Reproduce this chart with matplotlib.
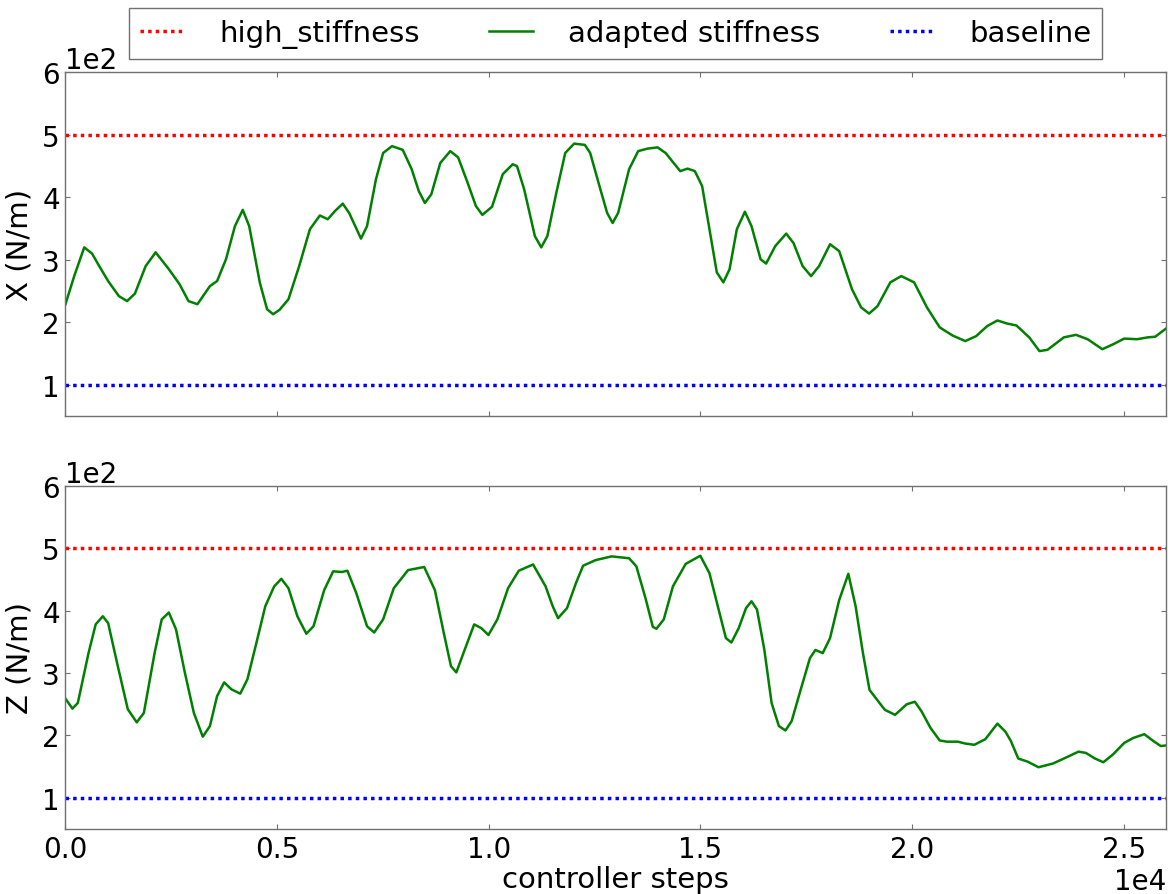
"""Stiffness adaptation over controller steps, X and Z axes."""

import matplotlib
matplotlib.use("Agg")
import matplotlib.pyplot as plt

plt.rcParams.update(
    {
        "font.family": "DejaVu Sans",
        "font.size": 21,
        "axes.formatter.use_mathtext": False,
    }
)

HIGH_STIFFNESS = 500.0
BASELINE = 100.0
X_MAX = 26000

# adapted stiffness along X (N/m)
steps_x = [
    0, 207, 444, 629, 798, 1009, 1262, 1456, 1641, 1895, 2131, 2443, 2696,
    2907, 3118, 3413, 3582, 3793, 4004, 4189, 4341, 4594, 4763, 4906, 5058,
    5269, 5522, 5775, 6011, 6197, 6366, 6551, 6703, 6982, 7125, 7336, 7505,
    7716, 7969, 8180, 8348, 8492, 8644, 8855, 9091, 9277, 9487, 9698, 9850,
    10078, 10331, 10567, 10668, 10837, 11090, 11241, 11385, 11596, 11807,
    12018, 12271, 12397, 12608, 12798, 12927, 13057, 13316, 13531, 13747,
    13989, 14179, 14524, 14697, 14870, 15042, 15215, 15388, 15543, 15690,
    15862, 16052, 16208, 16423, 16553, 16769, 17028, 17200, 17416, 17615,
    17805, 18064, 18280, 18582, 18797, 18987, 19186, 19488, 19747, 20050,
    20352, 20654, 20956, 21258, 21517, 21776, 22018, 22251, 22467, 22769,
    23011, 23201, 23589, 23874, 24150, 24496, 24755, 25013, 25316, 25575,
    25747, 26000,
]
stiff_x = [
    229, 274, 320, 310, 290, 266, 242, 234, 246, 290, 312, 285, 261,
    234, 229, 258, 266, 301, 354, 380, 354, 263, 221, 213, 220,
    237, 290, 349, 371, 365, 378, 390, 375, 334, 354, 429, 471,
    482, 476, 445, 410, 391, 405, 455, 474, 464, 426, 386, 372,
    385, 437, 453, 450, 413, 338, 320, 338, 407, 471,
    486, 484, 471, 420, 375, 359, 375, 445, 474, 478,
    480, 471, 442, 446, 442, 418, 349, 280, 264, 285,
    349, 377, 354, 301, 294, 322, 342, 327, 290, 274,
    290, 325, 314, 253, 224, 214, 226, 264, 274, 264,
    224, 192, 179, 170, 178, 194, 203, 198, 195, 176,
    154, 156, 176, 180, 173, 157, 165, 174, 173, 176,
    177, 190,
]

# adapted stiffness along Z (N/m)
steps_z = [
    0, 165, 292, 545, 714, 882, 1009, 1220, 1473, 1684, 1852, 2106, 2274,
    2443, 2612, 2823, 3034, 3244, 3413, 3582, 3750, 3919, 4130, 4299, 4510,
    4721, 4932, 5100, 5269, 5480, 5691, 5860, 6113, 6324, 6535, 6661, 6872,
    7125, 7294, 7505, 7757, 8095, 8475, 8728, 8939, 9108, 9234, 9403, 9656,
    9824, 9993, 10204, 10457, 10710, 11048, 11343, 11512, 11638, 11849,
    12060, 12229, 12524, 12904, 13316, 13488, 13704, 13877, 13963, 14136,
    14352, 14654, 14999, 15215, 15431, 15603, 15733, 15906, 16078, 16208,
    16337, 16510, 16683, 16855, 17011, 17157, 17373, 17589, 17718, 17891,
    18064, 18280, 18496, 18668, 18841, 18996, 19143, 19359, 19600, 19877,
    20067, 20222, 20438, 20654, 20826, 21085, 21258, 21474, 21733, 22018,
    22207, 22337, 22510, 22731, 22990, 23330, 23589, 23934, 24107, 24323,
    24521, 24755, 25013, 25229, 25488, 25704, 25877, 26000,
]
stiff_z = [
    259, 243, 252, 332, 378, 391, 380, 316, 242, 221, 236, 332, 386,
    397, 370, 300, 236, 198, 215, 263, 285, 274, 267, 290, 348,
    407, 439, 451, 436, 391, 363, 375, 433, 463, 462, 464, 428,
    375, 365, 386, 436, 465, 470, 433, 364, 311, 301, 332, 378,
    372, 361, 386, 436, 464, 474, 439, 407, 388, 404,
    444, 472, 481, 487, 484, 471, 420, 374, 371, 386,
    439, 475, 488, 460, 402, 356, 349, 372, 404, 415,
    402, 338, 252, 215, 208, 223, 274, 324, 337, 332,
    356, 417, 459, 407, 332, 273, 260, 241, 233, 250,
    254, 239, 212, 192, 190, 190, 187, 185, 194, 219,
    206, 191, 163, 158, 149, 155, 163, 174, 172, 163,
    157, 170, 188, 196, 202, 191, 183, 184,
]

EDGE = "#707070"

fig = plt.figure(figsize=(11.73, 8.95), dpi=100, facecolor="white")
ax_x = fig.add_axes([0.0558, 0.534, 0.9382, 0.384])
ax_z = fig.add_axes([0.0558, 0.0726, 0.9382, 0.3834], sharex=ax_x)

dots = (0, (1.0, 1.2))
panels = [(ax_x, steps_x, stiff_x, "X (N/m)"), (ax_z, steps_z, stiff_z, "Z (N/m)")]
for ax, steps, stiff, ylabel in panels:
    ax.axhline(HIGH_STIFFNESS, color="red", lw=2.5, linestyle=dots, label="high_stiffness")
    ax.plot(steps, stiff, color="green", lw=1.8, label="adapted stiffness")
    ax.axhline(BASELINE, color="blue", lw=2.5, linestyle=dots, label="baseline")

    ax.set_xlim(0, X_MAX)
    ax.set_ylim(50, 600)
    ax.set_yticks([100, 200, 300, 400, 500, 600])
    ax.set_ylabel(ylabel, fontsize=21, labelpad=6)
    ax.ticklabel_format(style="sci", axis="both", scilimits=(0, 0))
    ax.tick_params(direction="in", length=3.5, width=0.8, color=EDGE,
                   labelsize=20, pad=4, top=True, right=True)
    ax.yaxis.get_offset_text().set_fontsize(20)
    ax.xaxis.get_offset_text().set_fontsize(20)
    for spine in ax.spines.values():
        spine.set_color(EDGE)
        spine.set_linewidth(1.0)

ax_x.tick_params(labelbottom=False)
ax_x.xaxis.get_offset_text().set_visible(False)
ax_z.set_xlabel("controller steps", fontsize=21, labelpad=2)

leg = ax_x.legend(
    loc="lower center",
    bbox_to_anchor=(0.5, 1.038),
    borderaxespad=0.0,
    ncol=3,
    fontsize=21,
    handlelength=1.5,
    handletextpad=1.2,
    columnspacing=2.4,
    borderpad=0.38,
    fancybox=False,
    framealpha=1.0,
)
leg.get_frame().set_edgecolor(EDGE)
leg.get_frame().set_linewidth(1.0)

fig.savefig("out.png", dpi=100, facecolor="white")
